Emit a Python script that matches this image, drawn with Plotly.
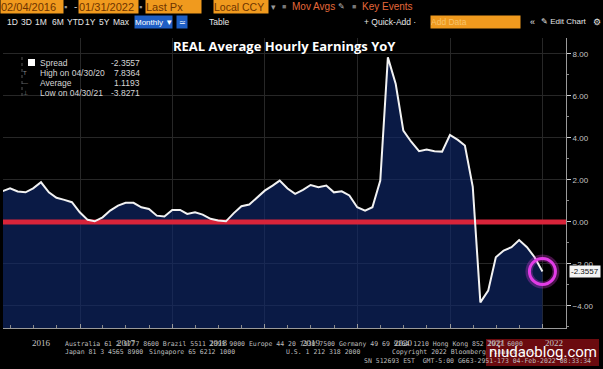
import plotly.graph_objects as go
import pandas as pd

# ---------------- data ----------------
spread_2016 = [1.46, 1.60, 1.45, 1.41, 1.60, 1.89, 1.41, 1.15, 1.05, 0.94, 0.46]  # Feb..Dec
spread_2017 = [0.10, 0.03, 0.22, 0.54, 0.78, 0.91, 0.91, 0.70, 0.62, 0.30, 0.26, 0.57]
spread_2018 = [0.57, 0.38, 0.46, 0.35, 0.15, 0.07, 0.03, 0.42, 0.75, 0.83, 1.17, 1.49]
spread_2019 = [1.73, 1.97, 1.59, 1.34, 1.53, 1.76, 1.65, 1.73, 1.41, 1.46, 1.26, 0.70]
spread_2020 = [0.54, 0.70, 1.97, 7.8364, 6.57, 4.35, 3.82, 3.37, 3.45, 3.37, 3.35, 4.14]
spread_2021 = [3.91, 3.64, 1.67, -3.8271, -3.27, -1.68, -1.36, -1.20, -0.86, -1.20, -1.68, -2.3557]

spread = spread_2016 + spread_2017 + spread_2018 + spread_2019 + spread_2020 + spread_2021
dates = list(pd.date_range("2016-02-01", periods=len(spread), freq="MS") + pd.offsets.MonthEnd(0))

year_labels = ["2016", "2017", "2018", "2019", "2020", "2021", "2022"]
year_label_pos = ["2016-08-02", "2017-07-02", "2018-07-02", "2019-07-02", "2020-07-02", "2021-07-02", "2022-02-16"]
year_grid = ["2017-01-01", "2018-01-01", "2019-01-01", "2020-01-01", "2021-01-01", "2022-01-01"]

legend_names = ["Spread", "High on 04/30/20", "Average", "Low on 04/30/21"]
legend_values = ["-2.3557", "7.8364", "1.1193", "-3.8271"]
last_value = -2.3557

X_RANGE = ["2016-03-03", "2022-04-03"]
Y_RANGE = [-5.05, 8.76]

# ---------------- geometry helpers ----------------
W, H = 603, 369
L, R, T, B = 3, 566, 38, 328
PW, PH = R - L, B - T


def px(x):
    return (x - L) / PW


def py(y):
    return (B - y) / PH


NARROW = "Liberation Sans Narrow, Arial Narrow, Liberation Sans, sans-serif"
SANS = "Liberation Sans, Arial, sans-serif"
MONO = "DejaVu Sans Mono, Liberation Mono, monospace"

annotations = []
shapes = []


def txt(text, x, y, size, color, anchor="left", family=SANS, **kw):
    d = dict(text=text, x=px(x), y=py(y), xref="paper", yref="paper", xanchor=anchor,
             yanchor="middle", showarrow=False, font=dict(size=size, color=color, family=family))
    d.update(kw)
    annotations.append(d)


def box(text, x0, x1, y, bg, fc, size, align="left", h=13, family=NARROW):
    annotations.append(dict(text=text, x=px(x0), y=py(y), xref="paper", yref="paper", xanchor="left",
                            yanchor="middle", showarrow=False, width=x1 - x0, height=h, bgcolor=bg,
                            borderpad=0, align=align,
                            font=dict(size=size, color=fc, family=family)))


# ---------------- figure ----------------
fig = go.Figure()

# baseline for the area fill (bottom of the value axis)
fig.add_trace(go.Scatter(x=dates, y=[Y_RANGE[0]] * len(dates), mode="lines",
                         line=dict(width=0, color="rgba(0,0,0,0)"), hoverinfo="skip", showlegend=False))
# area fill
fig.add_trace(go.Scatter(x=dates, y=spread, mode="lines", fill="tonexty",
                         fillcolor="rgba(16,40,108,0.64)", line=dict(width=0),
                         hoverinfo="skip", showlegend=False))
# zero reference line (red)
fig.add_trace(go.Scatter(x=X_RANGE, y=[0, 0], mode="lines", line=dict(color="#d8243a", width=5),
                         hoverinfo="skip", showlegend=False))
# spread line
fig.add_trace(go.Scatter(x=dates, y=spread, mode="lines", line=dict(color="#f2f2f2", width=2),
                         hoverinfo="skip", showlegend=False))
# magenta highlight ring on the last point (glow + ring)
fig.add_trace(go.Scatter(x=[dates[-1]], y=[last_value], mode="markers",
                         marker=dict(symbol="circle-open", size=27, color="rgba(230,60,230,0.30)",
                                     line=dict(width=7, color="rgba(230,60,230,0.30)")),
                         hoverinfo="skip", showlegend=False))
fig.add_trace(go.Scatter(x=[dates[-1]], y=[last_value], mode="markers",
                         marker=dict(symbol="circle-open", size=26, color="#e23ce6",
                                     line=dict(width=3, color="#e23ce6")),
                         hoverinfo="skip", showlegend=False))

# ---------------- toolbar ----------------
ORANGE = "#f09a1e"
ORTXT = "#6e3400"
r1 = 7
box("02/04/2016", 0, 62, r1, ORANGE, ORTXT, 11)
box("▪", 63, 68, r1, "rgba(0,0,0,0)", "#9a9a9a", 9)
txt("-", 72, r1, 10, "#cccccc")
box("01/31/2022", 78, 137, r1, ORANGE, ORTXT, 11)
box("▪", 138, 143, r1, "rgba(0,0,0,0)", "#9a9a9a", 9)
box("Last Px", 145, 200, r1, ORANGE, ORTXT, 11)
box("Local CCY", 213, 267, r1, ORANGE, ORTXT, 10.5)
txt("▾", 269, r1, 9, "#9a9a9a", family=SANS)
txt("■", 280, r1, 7, "#777777")
txt("Mov Avgs", 290, r1, 10, "#e4683a", family=NARROW)
txt("✎", 336, r1, 8, "#bbbbbb")
txt("■", 350, r1, 7, "#777777")
txt("Key Events", 360, r1, 10, "#e4683a", family=NARROW)

r2 = 22
for label, x in [("1D", 5), ("3D", 19), ("1M", 33), ("6M", 50), ("YTD", 65), ("1Y", 83), ("5Y", 97), ("Max", 111)]:
    txt(label, x, r2, 8.5, "#e6e6e6", family=NARROW)
box("Monthly ▼", 134, 171, r2, "#1f5fc4", "#ffffff", 8, h=12)
box("≃", 176, 186, r2, "#1f5fc4", "#ffffff", 8, h=12, align="center")
txt("Table", 207, r2, 8.5, "#e6e6e6", family=NARROW)
txt("+ Quick-Add ·", 362, r2, 8.5, "#e6e6e6", family=NARROW)
box("Add Data", 430, 519, r2, ORANGE, "#f8c46a", 8.5, h=12)
txt("«", 528, r2, 9, "#e6e6e6")
txt("✎ Edit Chart", 539, r2, 8, "#e6e6e6", family=NARROW)
txt("⚙", 591, r2, 9, "#e6e6e6")

# ---------------- title ----------------
txt("<b>REAL Average Hourly Earnings YoY</b>", 284.5, 46, 13, "#ffffff", anchor="center",
    family="Open Sans, Noto Sans, sans-serif")

# ---------------- legend block ----------------
shapes.append(dict(type="line", xref="paper", yref="paper", x0=px(22), x1=px(22), y0=py(57), y1=py(98),
                   line=dict(color="#555555", width=1, dash="dot")))
shapes.append(dict(type="rect", xref="paper", yref="paper", x0=px(28), x1=px(35), y0=py(66), y1=py(59),
                   fillcolor="#ffffff", line=dict(width=0)))
leg_y = [62.5, 73, 83, 93]
for glyph, y in zip(["", "T", "—", "⊥"], leg_y):
    if glyph:
        txt(glyph, 25, y, 6, "#8a8a8a", anchor="center")
for name, val, y in zip(legend_names, legend_values, leg_y):
    txt(name, 38, y, 8.5, "#d6d6d6", family=SANS)
    txt(val, 142, y, 8.5, "#d6d6d6", anchor="right", family=SANS)

# ---------------- last value tag ----------------
annotations.append(dict(text="-2.3557", x=1.0, xshift=3, y=last_value, xref="paper", yref="y",
                        xanchor="left", yanchor="middle", showarrow=False, bgcolor="#f4f4f4",
                        borderpad=1, font=dict(size=8, color="#111111", family=SANS)))

# ---------------- year labels ----------------
for lab, pos in zip(year_labels, year_label_pos):
    annotations.append(dict(text=lab, x=pos, y=py(343), xref="x", yref="paper", xanchor="center",
                            yanchor="middle", showarrow=False,
                            font=dict(size=9, color="#c4c4c4", family="Liberation Serif, DejaVu Serif, serif")))

# ---------------- footer ----------------
FT = "#bdbdbd"
FS = 6.5
txt("Australia 61 2 9777 8600 Brazil 5511 2395 9000 Europe 44 20 7330 7500 Germany 49 69 9204 1210 Hong Kong 852 2977 6000",
    63, 344, FS, FT, family=MONO)
txt("Japan 81 3 4565 8900", 63, 352, FS, FT, family=MONO)
txt("Singapore 65 6212 1000", 147, 352, FS, FT, family=MONO)
txt("U.S. 1 212 318 2000", 284, 352, FS, FT, family=MONO)
txt("Copyright 2022 Bloomberg Finance L.P.", 390, 352, FS, FT, family=MONO)
txt("SN 512693 EST  GMT-5:00 G663-2951-173 04-Feb-2022 08:33:34", 362, 361, FS, FT, family=MONO)

# watermark
shapes.append(dict(type="rect", xref="paper", yref="paper", x0=px(486), x1=px(599), y0=py(366), y1=py(339),
                   fillcolor="rgba(130,14,18,0.82)", line=dict(width=0), layer="above"))
txt("niudaoblog.com", 543, 352, 15, "#ffffff", anchor="center", family="Roboto, Liberation Sans, sans-serif")

# ---------------- layout ----------------
fig.update_layout(
    width=W, height=H,
    margin=dict(l=L, r=W - R, t=T, b=H - B, pad=0),
    paper_bgcolor="#000000", plot_bgcolor="#000000",
    showlegend=False,
    xaxis=dict(type="date", range=X_RANGE, tickmode="array", tickvals=year_grid,
               showticklabels=False, ticks="inside", ticklen=4, tickcolor="#9a9a9a",
               showgrid=True, gridcolor="#272727", gridwidth=1, zeroline=False,
               showline=True, linecolor="#9a9a9a", linewidth=1,
               minor=dict(dtick="M3", tick0="2016-01-01", ticks="inside", ticklen=3,
                          tickcolor="#8a8a8a", showgrid=False)),
    yaxis=dict(range=Y_RANGE, side="right", tickmode="linear", tick0=0, dtick=2, tickformat=".2f",
               ticks="outside", ticklen=4, tickcolor="#d0d0d0", tickwidth=1,
               tickfont=dict(size=8, color="#c4c4c4", family=SANS),
               showgrid=True, gridcolor="#272727", gridwidth=1, zeroline=False,
               showline=True, linecolor="#9a9a9a", linewidth=1,
               minor=dict(dtick=1, tick0=0, ticks="outside", ticklen=2, tickcolor="#8a8a8a", showgrid=False)),
    annotations=annotations,
    shapes=shapes,
)

fig.write_html("out.html",
               config={"displayModeBar": False, "staticPlot": True},
               post_script="document.body.style.margin='0';document.body.style.padding='0';"
                           "document.body.style.background='#000';document.body.style.overflow='hidden';")
